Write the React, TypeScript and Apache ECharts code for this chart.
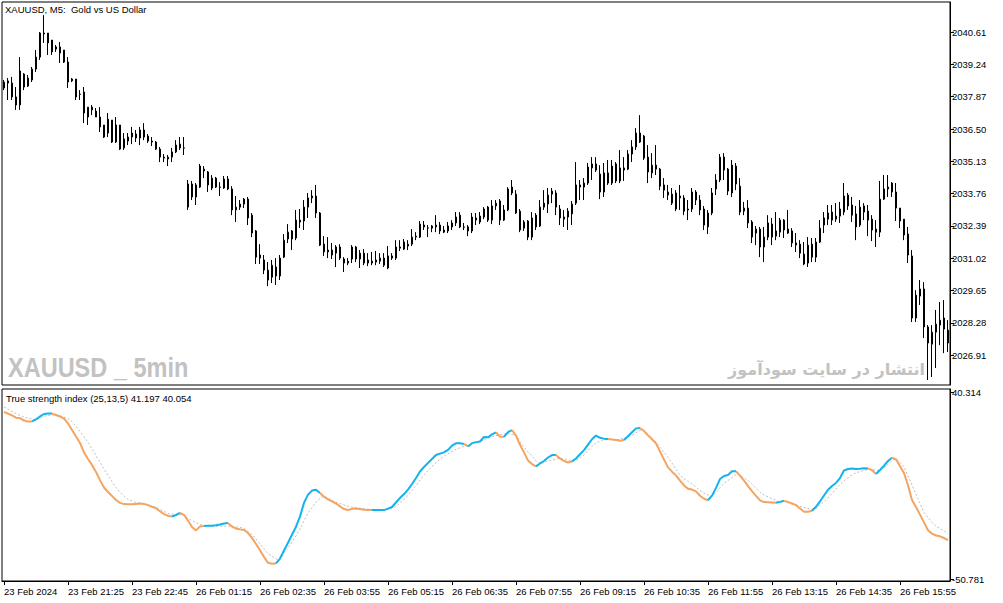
import React, { useEffect, useRef } from "react";
import * as echarts from "echarts";

const opens = [
2038.49,2038.54,2038.45,2037.86,2037.52,2038.83,2038.32,2038.58,2039.04,2039.55,
2040.53,2040.57,2040.27,2039.89,2039.98,2039.85,2039.34,2038.54,2038.62,2037.98,
2038.07,2037.01,2037.31,2037.26,2037.01,2036.67,2036.33,2036.88,2035.95,2036.67,
2035.70,2035.99,2036.16,2036.29,2036.12,2036.46,2036.20,2035.99,2035.95,2035.65,
2035.31,2035.23,2035.31,2035.53,2035.86,2035.70,2033.19,2034.17,2033.62,2034.04,
2034.80,2034.68,2034.00,2034.42,2034.04,2034.00,2034.38,2033.96,2033.07,2033.19,
2033.32,2033.53,2032.85,2032.18,2031.16,2030.95,2030.52,2030.22,2030.65,2030.27,
2031.07,2031.84,2032.18,2031.88,2032.64,2032.60,2033.19,2033.58,2033.66,2032.94,
2031.62,2031.29,2031.37,2031.24,2031.50,2030.99,2030.82,2030.99,2031.50,2030.99,
2031.24,2030.82,2030.82,2030.86,2030.90,2031.03,2030.61,2031.12,2031.03,2031.45,
2031.41,2031.54,2031.62,2031.92,2031.92,2032.43,2032.30,2032.30,2032.35,2032.43,
2032.22,2032.18,2032.35,2032.52,2032.85,2032.35,2032.35,2032.18,2032.64,2032.56,
2032.77,2033.19,2032.64,2033.24,2033.45,2032.64,2033.07,2034.04,2033.74,2033.02,
2032.30,2032.60,2031.92,2032.85,2032.39,2033.19,2033.32,2033.74,2033.79,2033.11,
2032.77,2032.77,2032.90,2033.36,2034.04,2034.04,2034.21,2034.85,2035.02,2034.59,
2033.83,2034.21,2034.21,2035.02,2034.30,2034.76,2034.80,2035.44,2035.74,2036.33,
2036.20,2035.31,2034.64,2034.97,2034.80,2034.13,2033.83,2033.74,2033.11,2033.66,
2033.58,2033.07,2033.11,2033.83,2033.49,2033.11,2032.35,2032.94,2033.96,2034.34,
2035.31,2034.80,2033.79,2034.93,2034.08,2033.02,2033.15,2032.56,2032.09,2032.26,
2031.50,2031.92,2032.47,2031.96,2032.13,2032.64,2032.26,2032.18,2031.67,2031.62,
2031.20,2030.82,2031.62,2031.07,2031.71,2032.43,2032.68,2032.98,2032.68,2032.81,
2032.98,2033.70,2033.28,2032.90,2032.43,2033.24,2033.02,2032.68,2032.26,2032.13,
2033.53,2033.96,2034.21,2033.83,2033.15,2032.68,2032.05,2031.12,2028.49,2029.42,
2029.72,2028.11,2027.38,2027.89,2028.19,2028.49,2027.98
];

const closes = [
2038.24,2038.45,2037.86,2037.52,2038.96,2038.28,2038.66,2039.04,2039.55,2040.57,
2040.57,2040.15,2039.77,2039.98,2039.72,2039.34,2038.49,2038.62,2037.86,2037.97,
2037.18,2037.43,2037.43,2037.01,2036.59,2036.16,2036.92,2035.95,2036.67,2035.65,
2036.08,2036.16,2036.33,2036.12,2036.46,2036.16,2035.99,2035.95,2035.65,2035.31,
2035.27,2035.31,2035.53,2035.82,2035.70,2035.69,2034.17,2033.62,2034.13,2034.93,
2034.72,2034.13,2034.42,2034.04,2034.03,2034.38,2033.96,2033.07,2033.19,2033.32,
2033.53,2032.73,2032.09,2031.07,2031.03,2030.52,2030.10,2030.73,2030.27,2031.03,
2031.79,2032.13,2031.84,2032.64,2032.56,2033.19,2033.58,2033.66,2032.94,2031.58,
2031.29,2031.37,2031.16,2031.50,2031.03,2030.82,2030.90,2031.50,2030.99,2031.24,
2030.82,2030.95,2030.90,2030.95,2031.03,2030.73,2031.12,2031.03,2031.50,2031.50,
2031.71,2031.62,2031.92,2031.96,2032.47,2032.35,2032.31,2032.39,2032.43,2032.18,
2032.13,2032.39,2032.52,2032.77,2032.35,2032.34,2032.18,2032.77,2032.73,2032.81,
2033.11,2032.64,2033.24,2033.36,2032.64,2033.07,2033.96,2033.79,2032.94,2032.22,
2032.56,2031.92,2032.73,2032.35,2033.19,2033.36,2033.70,2033.87,2033.19,2032.73,
2032.68,2033.02,2033.32,2034.13,2034.13,2034.21,2034.89,2035.02,2034.76,2033.83,
2034.64,2034.64,2034.93,2034.30,2034.85,2034.85,2035.44,2035.74,2036.33,2035.95,
2035.27,2034.68,2034.97,2034.80,2034.08,2033.91,2033.70,2033.36,2033.79,2033.58,
2033.02,2033.11,2033.83,2033.49,2033.07,2032.43,2032.94,2033.79,2034.34,2035.31,
2034.76,2033.87,2034.97,2034.17,2032.98,2033.15,2032.52,2031.92,2032.26,2031.50,
2031.92,2032.52,2031.92,2032.18,2032.64,2032.22,2032.09,2031.67,2031.58,2031.24,
2030.78,2031.58,2031.07,2031.71,2032.30,2032.73,2032.94,2032.64,2032.81,2033.11,
2033.66,2033.24,2032.85,2032.35,2033.19,2032.98,2032.64,2032.22,2032.13,2033.53,
2033.96,2034.04,2033.83,2033.15,2032.60,2032.01,2031.16,2028.49,2029.46,2029.72,
2028.11,2027.43,2027.89,2028.23,2028.40,2028.02,2027.43
];

const highs = [
2038.58,2038.66,2038.71,2038.28,2039.55,2038.87,2038.79,2039.13,2039.85,2040.61,
2041.33,2040.57,2040.27,2040.06,2040.19,2039.85,2039.55,2038.66,2038.62,2038.15,
2038.28,2037.43,2037.52,2037.39,2037.43,2036.67,2037.18,2036.88,2037.01,2036.67,
2036.33,2036.33,2036.59,2036.46,2036.59,2036.75,2036.29,2036.16,2035.99,2035.74,
2035.44,2035.40,2035.70,2036.03,2036.16,2036.16,2034.34,2034.30,2034.21,2035.02,
2034.93,2034.72,2034.55,2034.47,2034.25,2034.51,2034.51,2034.08,2033.66,2033.49,
2033.58,2033.62,2032.94,2032.22,2031.62,2031.16,2030.86,2030.95,2031.03,2031.16,
2032.05,2032.47,2032.22,2033.07,2033.11,2033.49,2033.79,2033.91,2034.13,2032.98,
2031.96,2031.92,2031.67,2031.58,2031.62,2031.07,2031.03,2031.58,2031.54,2031.37,
2031.41,2031.24,2031.29,2031.33,2031.24,2031.24,2031.54,2031.24,2031.79,2031.79,
2031.84,2031.79,2032.26,2032.13,2032.60,2032.60,2032.43,2032.43,2032.85,2032.56,
2032.39,2032.56,2032.64,2032.98,2032.98,2032.52,2032.43,2032.94,2032.94,2032.98,
2033.19,2033.24,2033.49,2033.49,2033.53,2033.28,2034.04,2034.34,2033.91,2033.11,
2032.64,2032.64,2032.98,2032.94,2033.49,2033.91,2034.00,2034.00,2033.91,2033.28,
2033.07,2033.15,2033.45,2035.10,2034.34,2034.42,2035.06,2035.31,2035.31,2034.97,
2035.06,2035.19,2035.19,2035.10,2035.61,2035.31,2035.61,2036.03,2036.54,2037.09,
2036.25,2035.82,2035.48,2035.82,2034.85,2034.42,2034.13,2034.00,2033.91,2034.13,
2033.70,2033.49,2034.00,2033.91,2033.70,2033.24,2033.07,2034.00,2034.59,2035.44,
2035.48,2034.85,2035.19,2035.06,2034.42,2033.41,2033.49,2032.64,2032.39,2032.35,
2032.35,2032.85,2032.73,2032.98,2032.73,2032.68,2033.07,2032.30,2032.09,2031.79,
2031.71,2031.92,2031.88,2031.88,2032.64,2032.98,2033.28,2033.28,2033.36,2033.41,
2034.21,2033.79,2033.62,2033.24,2033.49,2033.36,2033.28,2032.85,2032.64,2034.30,
2034.55,2034.55,2034.25,2034.21,2033.15,2032.68,2032.35,2031.37,2029.67,2030.10,
2030.01,2028.19,2028.19,2028.83,2029.17,2029.25,2028.40
];

const lows = [
2038.15,2037.73,2037.73,2037.31,2037.31,2038.15,2038.28,2038.49,2038.92,2039.43,
2040.15,2039.64,2039.64,2039.77,2039.30,2039.30,2038.24,2038.49,2037.73,2037.73,
2036.75,2036.67,2037.09,2037.01,2036.37,2036.12,2036.16,2035.91,2035.91,2035.61,
2035.61,2035.82,2035.86,2035.95,2035.82,2036.03,2035.91,2035.78,2035.61,2035.10,
2035.10,2034.93,2035.10,2035.48,2035.61,2035.40,2033.07,2033.49,2033.28,2034.00,
2034.42,2033.83,2033.91,2034.00,2033.66,2033.96,2033.91,2032.85,2032.56,2033.07,
2033.15,2032.43,2031.92,2030.78,2030.78,2030.35,2029.84,2029.97,2029.89,2030.10,
2031.03,2031.67,2031.37,2031.79,2032.30,2032.22,2032.73,2033.36,2032.73,2031.54,
2031.12,2031.03,2030.99,2030.65,2030.95,2030.44,2030.73,2030.82,2030.86,2030.61,
2030.73,2030.69,2030.73,2030.73,2030.78,2030.65,2030.56,2030.95,2030.95,2031.33,
2031.37,2031.37,2031.54,2031.79,2031.88,2032.22,2031.92,2032.13,2032.13,2032.05,
2032.09,2032.09,2032.22,2032.39,2032.30,2032.22,2031.96,2032.09,2032.43,2032.47,
2032.68,2032.56,2032.47,2033.07,2032.43,2032.60,2033.02,2033.70,2032.90,2032.13,
2032.18,2031.79,2031.79,2032.22,2032.35,2033.07,2032.94,2033.36,2032.85,2032.43,
2032.35,2032.22,2032.43,2033.28,2033.49,2033.49,2034.13,2034.34,2034.68,2033.53,
2033.62,2034.13,2034.13,2034.21,2034.21,2034.30,2034.76,2035.10,2035.61,2035.91,
2035.19,2034.21,2034.42,2034.55,2033.91,2033.58,2033.49,2033.28,2033.02,2033.07,
2032.85,2032.64,2032.98,2033.28,2032.85,2032.22,2032.05,2032.85,2033.70,2034.25,
2034.34,2033.70,2033.62,2033.91,2032.85,2032.85,2032.30,2031.67,2031.58,2031.07,
2030.86,2031.79,2031.58,2031.79,2031.92,2031.88,2032.05,2031.50,2031.29,2031.03,
2030.73,2030.65,2030.86,2030.86,2031.67,2032.09,2032.43,2032.43,2032.56,2032.52,
2032.85,2033.07,2032.56,2031.79,2032.35,2032.64,2031.96,2031.75,2031.50,2031.92,
2033.49,2033.62,2033.62,2032.60,2032.30,2031.79,2030.82,2028.32,2028.32,2029.04,
2027.64,2025.86,2025.99,2026.37,2027.34,2027.00,2027.05
];

const tsiMain = [
30.6,29.8,28.9,27.8,27.6,26.4,25.9,26.0,27.0,28.4,
29.6,29.9,29.8,29.1,28.4,27.4,25.0,21.8,18.6,15.5,
10.9,7.7,4.8,1.4,-2.6,-6.2,-8.4,-10.3,-12.3,-13.7,
-14.3,-14.4,-14.4,-14.2,-14.0,-14.2,-14.8,-15.6,-16.3,-17.8,
-19.2,-20.0,-20.3,-19.6,-18.6,-19.6,-22.3,-25.4,-27.1,-25.2,
-24.9,-24.8,-24.8,-24.6,-24.2,-23.7,-23.5,-25.2,-26.2,-26.6,
-26.9,-28.4,-30.8,-33.7,-36.8,-40.0,-42.9,-43.3,-43.2,-40.8,
-36.9,-33.1,-29.2,-25.3,-20.4,-13.7,-9.7,-7.7,-7.3,-8.9,
-10.7,-12.0,-13.0,-14.0,-15.4,-16.7,-17.2,-16.6,-16.4,-16.7,
-17.0,-17.2,-17.2,-17.2,-17.2,-17.2,-16.5,-15.7,-13.5,-11.3,
-9.4,-7.2,-4.5,-1.6,1.6,3.8,5.7,7.7,9.6,10.3,
10.9,12.1,14.2,15.3,15.3,15.0,13.8,15.4,15.9,16.2,
18.4,18.3,19.7,20.7,18.5,18.5,20.8,21.8,19.1,14.6,
10.9,7.0,5.2,4.1,5.5,6.7,8.4,9.6,9.6,7.9,
6.7,6.0,6.5,7.9,10.0,12.0,14.7,17.3,19.1,18.0,
17.6,17.4,17.2,16.9,16.6,16.9,18.8,20.7,22.6,22.8,
21.3,19.2,17.3,15.3,11.3,7.4,3.6,1.5,-0.3,-2.8,
-5.2,-6.8,-7.2,-8.1,-10.2,-11.7,-12.4,-10.2,-6.4,-2.1,
-0.6,-0.1,1.7,1.7,-0.4,-2.8,-5.5,-8.0,-10.3,-12.5,
-13.3,-13.4,-13.5,-13.6,-13.2,-12.7,-13.3,-14.0,-14.8,-16.4,
-18.0,-18.0,-17.5,-15.6,-13.0,-10.1,-7.3,-5.5,-4.0,-1.6,
2.1,2.8,3.1,2.8,2.9,3.2,3.1,2.2,0.4,2.3,
4.4,6.7,8.3,7.5,4.1,0.8,-5.1,-12.3,-15.7,-19.4,
-23.2,-27.0,-28.7,-29.6,-30.0,-30.8,-31.8
];

const tsiSignal = [
33.0,32.0,30.8,29.8,28.9,28.1,27.6,27.2,26.7,27.9,
28.5,28.9,29.1,29.2,28.6,27.9,27.4,26.0,23.5,21.1,
18.5,15.9,12.6,9.4,6.1,2.8,-0.3,-3.3,-6.2,-8.5,
-10.3,-12.0,-12.8,-13.5,-13.9,-14.0,-14.6,-15.3,-15.9,-16.9,
-17.9,-18.8,-19.1,-19.8,-19.5,-19.4,-21.3,-22.3,-23.3,-24.2,
-24.6,-24.9,-24.9,-25.0,-25.0,-25.0,-25.0,-25.1,-25.4,-25.7,
-26.1,-27.6,-29.2,-31.3,-33.7,-36.1,-38.4,-39.7,-41.0,-41.3,
-37.9,-35.7,-32.7,-29.8,-26.4,-22.5,-18.6,-15.9,-13.3,-11.6,
-10.4,-11.3,-12.4,-13.4,-14.0,-14.7,-15.3,-15.8,-16.1,-16.3,
-16.5,-16.7,-16.8,-17.4,-17.4,-17.3,-16.9,-16.3,-15.5,-13.7,
-12.0,-10.1,-7.7,-5.2,-2.6,-0.1,2.1,4.1,5.9,7.6,
9.0,10.2,11.3,12.4,13.1,13.8,14.6,15.2,15.6,16.0,
17.1,17.8,18.5,19.1,19.5,19.9,20.0,19.6,19.4,16.1,
13.5,11.1,9.1,6.7,5.3,6.0,6.7,7.2,7.5,8.2,
7.7,7.2,6.7,7.0,8.3,9.6,11.8,13.9,15.5,16.4,
17.2,17.2,17.3,17.0,17.3,17.9,18.5,19.2,20.4,21.6,
21.6,19.6,17.6,15.9,13.4,10.9,8.6,5.7,2.7,-0.2,
-1.9,-3.2,-4.5,-6.0,-7.6,-9.0,-9.8,-10.5,-8.7,-6.3,
-4.2,-2.8,-1.4,0.1,0.0,-1.6,-2.6,-4.6,-6.5,-8.5,
-9.8,-10.7,-11.7,-12.4,-13.4,-13.0,-13.2,-13.9,-14.6,-15.4,
-15.9,-16.4,-16.9,-16.4,-14.7,-13.1,-11.3,-9.1,-6.9,-4.7,
-2.9,-1.6,-0.1,1.0,1.5,2.1,2.7,2.6,2.2,2.1,
3.3,5.0,7.0,7.7,6.0,3.8,-0.6,-5.0,-9.4,-13.9,
-18.4,-20.9,-23.2,-25.0,-26.2,-27.4,-28.6
];

const timeLabels = [
  "23 Feb 2024", "23 Feb 21:25", "23 Feb 22:45", "26 Feb 01:15", "26 Feb 02:35",
  "26 Feb 03:55", "26 Feb 05:15", "26 Feb 06:35", "26 Feb 07:55", "26 Feb 09:15",
  "26 Feb 10:35", "26 Feb 11:55", "26 Feb 13:15", "26 Feb 14:35", "26 Feb 15:55"
];
const BARS_PER_LABEL = 16;

const priceTicks = [2026.91, 2028.28, 2029.65, 2031.02, 2032.39, 2033.76, 2035.13, 2036.5, 2037.87, 2039.24, 2040.61];
const tsiTicks = [-50.781, 40.314];

const FONT = "'Liberation Sans', Arial, sans-serif";
const BLUE = "#12B3EE";
const ORANGE = "#F4A460";

export default function App() {
  const ref = useRef<HTMLDivElement>(null);

  useEffect(() => {
    document.body.style.margin = "0";
    const chart = echarts.init(ref.current as HTMLDivElement, null, { renderer: "svg" });
    const cats = opens.map((_, i) => String(i));
    const n = tsiMain.length;
    const up = tsiMain.map((v, i) => v > tsiSignal[i]);

    // colored runs of the TSI line: blue while TSI is above its signal line
    const runs: { color: string; start: number; end: number }[] = [];
    for (let i = 1; i < n; i++) {
      const c = up[i] ? BLUE : ORANGE;
      const last = runs[runs.length - 1];
      if (last && last.color === c && last.end === i - 1) last.end = i;
      else runs.push({ color: c, start: i - 1, end: i });
    }
    const tsiSeries = runs.map((r) => ({
      type: "line",
      xAxisIndex: 1,
      yAxisIndex: 1,
      symbol: "none",
      silent: true,
      z: 3,
      connectNulls: false,
      lineStyle: { color: r.color, width: 2 },
      data: tsiMain.map((v, i) => (i >= r.start && i <= r.end ? v : null)),
    }));

    const labelInterval = (index: number) => index % BARS_PER_LABEL === 0;

    const option: any = {
      animation: false,
      backgroundColor: "#ffffff",
      grid: [
        { left: 2, top: 2, width: 948, height: 383, show: true, borderColor: "#000", borderWidth: 1 },
        { left: 2, top: 389, width: 948, height: 192, show: true, borderColor: "#000", borderWidth: 1 },
      ],
      xAxis: [
        {
          type: "category", gridIndex: 0, data: cats, boundaryGap: true,
          axisLine: { show: false, onZero: false }, axisTick: { show: false }, axisLabel: { show: false }, splitLine: { show: false },
        },
        {
          type: "category", gridIndex: 1, data: cats, boundaryGap: true, position: "bottom",
          axisLine: { show: true, onZero: false, lineStyle: { color: "#000", width: 1 } },
          axisTick: { show: true, alignWithLabel: true, interval: labelInterval, length: 4, lineStyle: { color: "#000" } },
          axisLabel: {
            show: true, interval: labelInterval, align: "left", margin: 5,
            color: "#000", fontSize: 9.5, fontFamily: FONT,
            formatter: (_v: string, idx: number) => timeLabels[Math.floor(idx / BARS_PER_LABEL)] ?? "",
          },
          splitLine: { show: false },
        },
      ],
      yAxis: [
        {
          type: "value", gridIndex: 0, position: "right", min: 2025.65, max: 2041.885, scale: true,
          splitLine: { show: false },
          axisLine: { show: true, lineStyle: { color: "#000" } },
          axisTick: { show: true, length: 4, lineStyle: { color: "#000" }, customValues: priceTicks },
          axisLabel: {
            show: true, customValues: priceTicks, margin: 2, color: "#000", fontSize: 9.5, fontFamily: FONT,
            formatter: (v: number) => v.toFixed(2),
          },
        },
        {
          type: "value", gridIndex: 1, position: "right", min: -51.75, max: 41.78,
          splitLine: { show: false },
          axisLine: { show: true, lineStyle: { color: "#000" } },
          axisTick: { show: true, length: 4, lineStyle: { color: "#000" }, customValues: tsiTicks },
          axisLabel: {
            show: true, customValues: tsiTicks, margin: 2, color: "#000", fontSize: 9.5, fontFamily: FONT,
            formatter: (v: number) => v.toFixed(3),
          },
        },
      ],
      series: [
        {
          type: "candlestick",
          xAxisIndex: 0,
          yAxisIndex: 0,
          barWidth: 2,
          silent: true,
          itemStyle: {
            color: "#ffffff", color0: "#000000",
            borderColor: "#000000", borderColor0: "#000000", borderColorDoji: "#000000",
            borderWidth: 1,
          },
          data: opens.map((o, i) => [o, closes[i], lows[i], highs[i]]),
        },
        {
          type: "line",
          xAxisIndex: 1,
          yAxisIndex: 1,
          symbol: "none",
          silent: true,
          z: 2,
          lineStyle: { color: "#BDBDBD", width: 1, type: [2, 2] },
          data: tsiSignal,
        },
        ...tsiSeries,
      ],
      graphic: [
        {
          type: "text", left: 5, top: 4, z: 10,
          style: { text: "XAUUSD, M5:  Gold vs US Dollar", fill: "#000", font: `9.5px ${FONT}` },
        },
        {
          type: "text", x: 8, y: 367, scaleX: 0.84, z: 1,
          style: {
            text: "XAUUSD _ 5min", fill: "#C2C2C2", font: `bold 28px ${FONT}`,
            textAlign: "left", textVerticalAlign: "middle",
          },
        },
        {
          type: "text", x: 925, y: 369, z: 1,
          style: {
            text: "انتشار در سایت سودآموز", fill: "#C2C2C2", font: "bold 16px 'DejaVu Sans', sans-serif",
            textAlign: "right", textVerticalAlign: "middle",
          },
        },
        {
          type: "text", left: 6, top: 393, z: 10,
          style: { text: "True strength index (25,13,5) 41.197 40.054", fill: "#000", font: `9.5px ${FONT}` },
        },
      ],
    };

    chart.setOption(option);
    return () => chart.dispose();
  }, []);

  return <div ref={ref} style={{ width: 1003, height: 603 }} />;
}
